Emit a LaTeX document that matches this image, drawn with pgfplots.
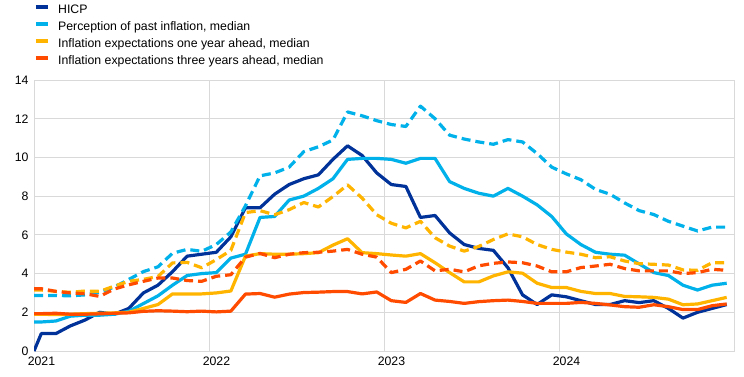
\documentclass[border=0pt]{standalone}
\usepackage{fontspec}
\setmainfont{Liberation Sans}
\usepackage{pgfplots}
\pgfplotsset{compat=1.18}
\usepackage{pgfplotstable}
\usetikzlibrary{calc}
\definecolor{ecbdark}{RGB}{0,50,153}
\definecolor{ecblight}{RGB}{0,177,234}
\definecolor{ecbyellow}{RGB}{255,180,0}
\definecolor{ecborange}{RGB}{255,75,0}
\definecolor{gridgray}{RGB}{217,217,217}
\pgfplotstableread{
m hicp pps ppd y1s y1d y3s y3d
-0.5 0.0 1.5 2.87 1.9 3.15 1.93 3.22
0 0.9 1.5 2.87 1.9 3.15 1.93 3.22
1 0.9 1.55 2.87 1.88 3.08 1.95 3.08
2 1.3 1.8 2.85 1.9 3.03 1.9 3.0
3 1.6 1.85 2.9 1.93 3.1 1.9 2.96
4 2.0 1.85 3.03 1.95 3.08 1.92 2.82
5 1.9 1.9 3.3 1.97 3.35 1.95 3.2
6 2.2 2.05 3.7 2.0 3.6 1.97 3.42
7 3.0 2.45 4.1 2.2 3.7 2.05 3.6
8 3.4 2.85 4.35 2.4 3.85 2.08 3.77
9 4.1 3.4 5.05 2.95 4.55 2.06 3.77
10 4.9 3.9 5.25 2.95 4.58 2.03 3.64
11 5.0 4.0 5.15 2.95 4.3 2.06 3.6
12 5.1 4.05 5.5 3.0 4.72 2.02 3.86
13 5.9 4.8 6.15 3.1 5.2 2.06 3.94
14 7.4 5.0 7.5 4.9 7.15 2.94 4.85
15 7.4 6.9 9.05 5.03 7.25 2.97 5.04
16 8.1 6.95 9.2 5.0 7.04 2.78 4.82
17 8.6 7.8 9.5 5.0 7.3 2.94 5.0
18 8.9 8.0 10.3 5.03 7.67 3.02 5.08
19 9.1 8.4 10.55 5.08 7.44 3.04 5.1
20 9.9 8.9 10.9 5.47 7.98 3.07 5.16
21 10.6 9.9 12.35 5.8 8.58 3.07 5.25
22 10.1 9.95 12.15 5.08 7.9 2.95 5.0
23 9.2 9.95 11.9 5.03 7.04 3.05 4.85
24 8.6 9.9 11.7 4.96 6.6 2.6 4.05
25 8.5 9.7 11.6 4.9 6.36 2.51 4.22
26 6.9 9.95 12.65 5.03 6.7 2.97 4.65
27 7.0 9.95 12.0 4.56 5.85 2.63 4.14
28 6.1 8.75 11.15 4.05 5.42 2.56 4.22
29 5.5 8.4 10.95 3.57 5.16 2.46 4.09
30 5.3 8.15 10.8 3.57 5.4 2.55 4.4
31 5.2 8.0 10.68 3.88 5.76 2.6 4.53
32 4.3 8.4 10.92 4.09 6.05 2.63 4.6
33 2.9 8.0 10.8 4.02 5.9 2.56 4.56
34 2.4 7.55 10.2 3.5 5.5 2.46 4.39
35 2.9 6.95 9.5 3.28 5.25 2.46 4.09
36 2.8 6.05 9.15 3.28 5.11 2.46 4.09
37 2.6 5.5 8.85 3.08 5.0 2.51 4.31
38 2.4 5.1 8.35 2.97 4.82 2.46 4.39
39 2.4 5.0 8.1 2.97 4.87 2.38 4.48
40 2.6 4.95 7.65 2.82 4.65 2.29 4.26
41 2.5 4.5 7.25 2.8 4.51 2.26 4.14
42 2.6 4.05 7.05 2.77 4.48 2.39 4.14
43 2.2 3.9 6.7 2.68 4.44 2.29 4.14
44 1.7 3.4 6.45 2.39 4.19 2.14 4.0
45 2.0 3.15 6.2 2.43 4.17 2.14 4.05
46 2.2 3.4 6.4 2.6 4.56 2.34 4.22
47 2.4 3.5 6.4 2.77 4.56 2.43 4.17
}\data
\begin{document}
\begin{tikzpicture}
\begin{axis}[
  scale only axis, width=700pt, height=271pt,
  xmin=-0.5, xmax=47.5, ymin=0, ymax=14,
  xtick={-0.5,11.5,23.5,35.5}, xticklabels={2021,2022,2023,2024},
  ytick={0,2,...,14},
  grid=major, major grid style={draw=gridgray, line width=1pt},
  axis line style={draw=gridgray, line width=1pt},
  major tick length=0pt,
  tick label style={font=\fontsize{12.3}{14}\selectfont, text=black},
  xticklabel style={xshift=7.5pt, yshift=-2pt},
  yticklabel style={xshift=-2pt},
  /pgf/number format/assume math mode=true,
  legend cell align=left,
  legend style={at={(0,1)}, anchor=north west, xshift=0pt, yshift=75.5pt,
    draw=none, fill=none, inner sep=0pt, row sep=5pt, column sep=8.5pt,
    font=\fontsize{12.3}{14}\selectfont,
    nodes={inner sep=0pt, text height=9pt, text depth=3pt}},
  legend image code/.code={\draw[#1, solid, line width=3.5pt] (0pt,3.5pt) -- (12pt,3.5pt);},
  every axis plot/.append style={line width=3.2pt, line join=round},
  dashedline/.style={dash pattern=on 9pt off 5pt},
]
\addplot[ecbdark] table[x=m, y=hicp] {\data};
\addlegendentry{HICP}
\addplot[ecblight] table[x=m, y=pps] {\data};
\addlegendentry{Perception of past inflation, median}
\addplot[ecbyellow] table[x=m, y=y1s] {\data};
\addlegendentry{Inflation expectations one year ahead, median}
\addplot[ecborange] table[x=m, y=y3s] {\data};
\addlegendentry{Inflation expectations three years ahead, median}
\addplot[ecblight, dashedline, forget plot] table[x=m, y=ppd] {\data};
\addplot[ecbyellow, dashedline, forget plot] table[x=m, y=y1d] {\data};
\addplot[ecborange, dashedline, forget plot] table[x=m, y=y3d] {\data};
\end{axis}
\pgfresetboundingbox
\path[use as bounding box] ($(current axis.south west)+(-34pt,-25pt)$) rectangle ($(current axis.north east)+(10pt,80pt)$);
\end{tikzpicture}
\end{document}
